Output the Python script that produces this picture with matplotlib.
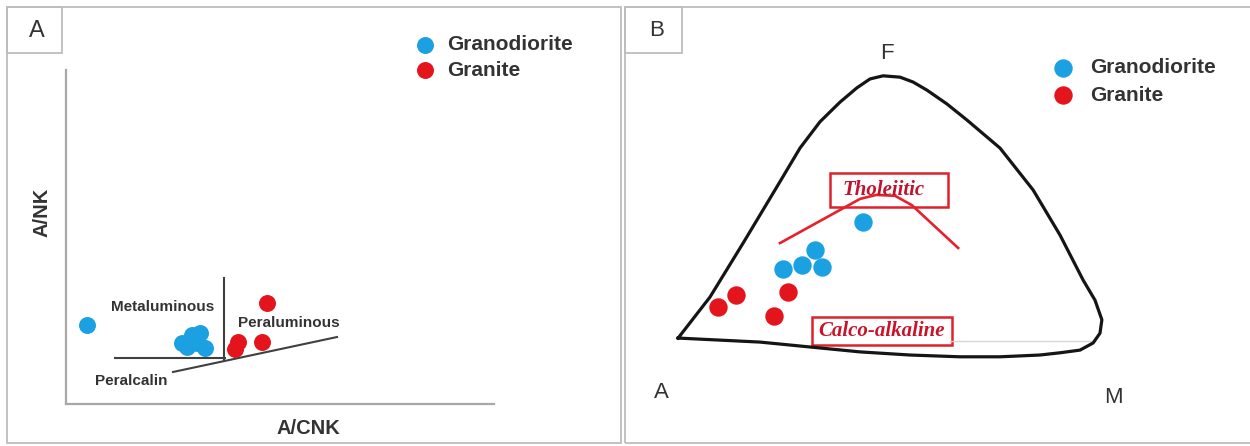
import matplotlib.pyplot as plt
from matplotlib.patches import Rectangle

plt.rcParams['font.family'] = ['Liberation Sans', 'DejaVu Sans']

W, H = 1250, 446
blue = '#1ba1e2'
red = '#e3141b'
ink = '#333333'

# --- panel A: A/CNK vs A/NK ---
gd_acnk = [0.569, 0.866, 0.881, 0.897, 0.912, 0.922, 0.938]
gd_ank = [1.36, 1.16, 1.12, 1.25, 1.16, 1.27, 1.11]
gr_acnk = [1.131, 1.041, 1.031, 1.116]
gr_ank = [1.60, 1.17, 1.10, 1.17]

# field boundaries
meta_x, meta_y = [0.656, 1.0], [1.0, 1.0]
split_x, split_y = [0.997, 0.997], [0.98, 1.87]
alk_x, alk_y = [0.8375, 1.35], [0.848, 1.228]

# --- panel B: AFM sketch (0-100 panel units) ---
afm_x = [8.5, 13.6, 18.9, 24.3, 28.0, 31.2, 34.4, 37.1, 39.2, 41.3, 44.0, 46.1,
         48.3, 51.5, 54.7, 60.0, 65.3, 69.6, 73.3, 75.2, 76.3, 76.0, 74.9, 72.8,
         69.6, 66.4, 60.0, 53.6, 45.6, 37.6, 29.6, 21.6, 8.5]
afm_y = [24.2, 33.4, 45.5, 58.1, 66.8, 72.7, 77.1, 80.3, 82.3, 83.0, 82.7, 81.6,
         79.8, 76.7, 73.1, 66.8, 57.4, 47.3, 37.2, 32.7, 28.3, 25.3, 23.1, 21.5,
         20.9, 20.4, 20.0, 20.0, 20.4, 21.1, 22.2, 23.3, 24.2]
thol_x = [24.8, 37.6, 40.2, 43.2, 45.9, 53.3]
thol_y = [45.5, 55.4, 56.3, 56.1, 54.0, 44.4]

gd_bx = [38.1, 30.4, 31.5, 28.3, 25.3]
gd_by = [50.2, 44.0, 40.1, 40.6, 39.7]
gr_bx = [26.1, 17.8, 14.9, 23.8]
gr_by = [34.5, 33.9, 31.2, 29.2]


def rect(l, t, r, b):
    return [l / W, 1 - b / H, (r - l) / W, (b - t) / H]


fig = plt.figure(figsize=(12.5, 4.46), dpi=100)

# panel frames and letter boxes
for (l, t, r, b) in [(7, 7, 621, 443), (625, 7, 1252, 443),
                     (7, 7, 62, 53), (625, 7, 682, 53)]:
    fig.add_artist(Rectangle((l / W, 1 - b / H), (r - l) / W, (b - t) / H,
                             transform=fig.transFigure, fill=False,
                             ec='#bdbdbd', lw=1.3))
fig.text(37 / W, 1 - 31 / H, 'A', fontsize=17, color=ink, ha='center', va='center')
fig.text(657 / W, 1 - 31 / H, 'B', fontsize=16, color=ink, ha='center', va='center')

# ---- A ----
axA = fig.add_axes(rect(66, 70, 494, 404))
axA.set_facecolor('none')
axA.set_xlim(0.503, 1.8406)
axA.set_ylim(0.5, 4.13)
for s in ['top', 'right']:
    axA.spines[s].set_visible(False)
for s in ['left', 'bottom']:
    axA.spines[s].set_color('#a8a8a8')
    axA.spines[s].set_linewidth(1.6)
axA.set_xticks([])
axA.set_yticks([])

for xs, ys in [(meta_x, meta_y), (split_x, split_y), (alk_x, alk_y)]:
    axA.plot(xs, ys, color='#404040', lw=1.5)

sa = axA.scatter(gd_acnk, gd_ank, s=125, color=blue, label='Granodiorite', zorder=3)
ra = axA.scatter(gr_acnk, gr_ank, s=125, color=red, label='Granite', zorder=3)

axA.text(0.806, 1.554, 'Metaluminous', fontsize=11, weight='bold', color=ink,
         ha='center', va='center')
axA.text(1.2, 1.38, 'Peraluminous', fontsize=11, weight='bold', color=ink,
         ha='center', va='center')
axA.text(0.706, 0.75, 'Peralcalin', fontsize=11, weight='bold', color=ink,
         ha='center', va='center')

fig.text(308 / W, 1 - 428 / H, 'A/CNK', fontsize=14.5, weight='bold', color=ink,
         ha='center', va='center')
fig.text(42 / W, 1 - 212 / H, 'A/NK', fontsize=14.5, weight='bold', color=ink,
         ha='center', va='center', rotation=90)

fig.legend(handles=[sa, ra], loc='upper left', bbox_to_anchor=(414.6 / W, 1 - 35 / H),
           bbox_transform=fig.transFigure, frameon=False, borderpad=0,
           borderaxespad=0, handlelength=1, handletextpad=0.56, labelspacing=0.32,
           scatterpoints=1, prop={'size': 15, 'weight': 'bold'}, labelcolor=ink)

# ---- B ----
axB = fig.add_axes(rect(625, 0, 1250, 446))
axB.set_facecolor('none')
axB.set_xlim(0, 100)
axB.set_ylim(0, 100)
axB.axis('off')

axB.plot([52, 75.2], [23.5, 23.5], color='#d6d6d6', lw=1)
axB.plot(afm_x, afm_y, color='#151515', lw=2.3, solid_joinstyle='round')
axB.plot(thol_x, thol_y, color='#e8202a', lw=1.9, solid_joinstyle='round')

axB.add_patch(Rectangle((32.8, 53.6), 18.9, 7.6, fill=False, ec='#e0202a', lw=1.8))
axB.add_patch(Rectangle((29.9, 22.65), 22.4, 6.3, fill=False, ec='#e0202a', lw=1.8))
axB.text(41.4, 57.4, 'Tholeiitic', family='Liberation Serif', style='italic',
         weight='bold', fontsize=15, color='#c0142e', ha='center', va='center')
axB.text(41.0, 25.8, 'Calco-alkaline', family='Liberation Serif', style='italic',
         weight='bold', fontsize=15, color='#c8142a', ha='center', va='center')

sb = axB.scatter(gd_bx, gd_by, s=150, color=blue, label='Granodiorite', zorder=3)
rb = axB.scatter(gr_bx, gr_by, s=150, color=red, label='Granite', zorder=3)

axB.text(41.9, 88.0, 'F', fontsize=16, color=ink, ha='center', va='center')
axB.text(5.8, 12.1, 'A', fontsize=16, color=ink, ha='center', va='center')
axB.text(78.1, 10.8, 'M', fontsize=16, color=ink, ha='center', va='center')

fig.legend(handles=[sb, rb], loc='upper left', bbox_to_anchor=(1052.6 / W, 1 - 58 / H),
           bbox_transform=fig.transFigure, frameon=False, borderpad=0,
           borderaxespad=0, handlelength=1, handletextpad=0.8, labelspacing=0.42,
           scatterpoints=1, prop={'size': 15, 'weight': 'bold'}, labelcolor=ink)

fig.savefig('out.png', dpi=100)
